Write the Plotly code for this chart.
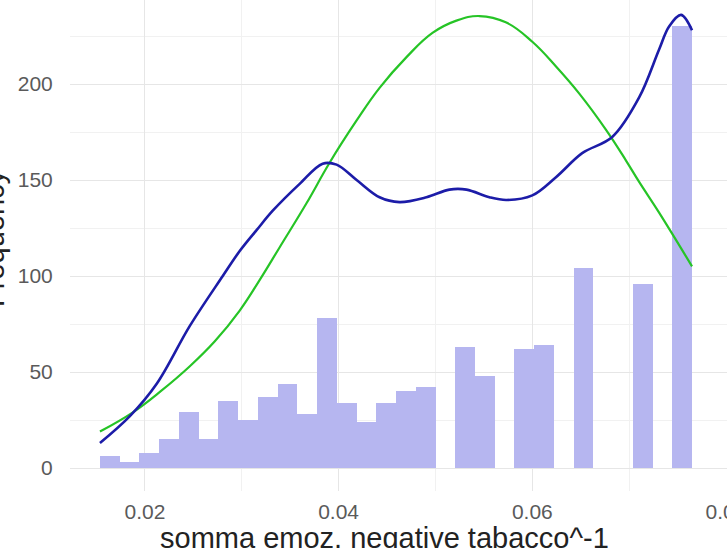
import plotly.graph_objects as go

# Histogram of the inverse-transformed score (30 equal-width bins)
BIN_START = 0.01536
BIN_WIDTH = 0.002038
counts = [6, 3, 8, 15, 29, 15, 35, 25, 37, 44,
          28, 78, 34, 24, 34, 40, 42, 0, 63, 48,
          0, 62, 64, 0, 104, 0, 0, 96, 0, 230]

# Kernel density estimate, scaled to counts
kde_x = [0.01536, 0.01845, 0.02124, 0.02464, 0.02804, 0.02979, 0.03155,
         0.03320, 0.03598, 0.03835, 0.03979, 0.04186, 0.04423,
         0.04629, 0.04907, 0.05144, 0.05320, 0.05557, 0.05732, 0.06000,
         0.06247, 0.06515, 0.06825, 0.07103, 0.07309, 0.07412, 0.07536,
         0.07649]
kde_y = [13, 27, 44, 74, 100, 113, 124,
         134, 148, 158.5, 158, 150, 141,
         138.5, 141, 145, 145, 141, 139.6, 142,
         151.6, 164, 172.4, 193, 218, 230, 236,
         228]

# Normal curve with the sample mean and sd, scaled to counts
norm_x = [0.01536, 0.01876, 0.02164, 0.02464, 0.02722, 0.02979, 0.03186,
          0.03392, 0.03670, 0.03907, 0.04186, 0.04423, 0.04701, 0.04969,
          0.05216, 0.05454, 0.05732, 0.06000, 0.06247, 0.06485, 0.06763,
          0.06969, 0.07103, 0.07309, 0.07649]
norm_y = [19, 29, 40, 53, 66, 82, 98,
          115, 138, 159, 181, 198, 214, 226.6,
          233, 235.4, 232, 222, 209, 195, 176,
          160, 149, 133, 105]

x_ticks = [0.02, 0.04, 0.06, 0.08]
x_tick_text = ["0.02", "0.04", "0.06", "0.08"]
y_ticks = [0, 50, 100, 150, 200]
y_tick_text = ["0", "50", "100", "150", "200"]

bin_centers = [BIN_START + (i + 0.5) * BIN_WIDTH for i in range(len(counts))]

FONT = "Liberation Sans, Arial, sans-serif"
PLOT_W = 727 - 70
PLOT_H = 548 - 57

fig = go.Figure()
fig.add_trace(go.Bar(
    x=bin_centers, y=counts, width=BIN_WIDTH,
    marker=dict(color="#b6b6f0", line=dict(width=0)),
    showlegend=False,
))
fig.add_trace(go.Scatter(
    x=norm_x, y=norm_y, mode="lines",
    line=dict(color="#26c426", width=2.2, shape="spline", smoothing=1.2),
    showlegend=False,
))
fig.add_trace(go.Scatter(
    x=kde_x, y=kde_y, mode="lines",
    line=dict(color="#1c1ca8", width=2.6, shape="spline", smoothing=1),
    showlegend=False,
))

fig.update_layout(
    width=727, height=548,
    margin=dict(l=70, r=0, t=0, b=57, pad=0, autoexpand=False),
    paper_bgcolor="white", plot_bgcolor="white",
    bargap=0,
    font=dict(family=FONT),
    xaxis=dict(
        range=[0.012268, 0.0801],
        automargin=False,
        tickvals=x_ticks, ticktext=x_tick_text,
        ticks="outside", ticklen=2, tickcolor="rgba(0,0,0,0)",
        ticklabeloverflow="allow",
        tickfont=dict(size=21, color="#5a5a5a", family=FONT),
        showgrid=True, gridcolor="#e6e6e6", gridwidth=1.2,
        minor=dict(tickvals=[0.03, 0.05, 0.07], showgrid=True,
                   gridcolor="#f1f1f1", gridwidth=0.9),
        zeroline=False, showline=False,
    ),
    yaxis=dict(
        range=[-11.98, 243.75],
        automargin=False,
        tickvals=y_ticks, ticktext=y_tick_text,
        ticks="outside", ticklen=12, tickcolor="rgba(0,0,0,0)",
        tickfont=dict(size=21, color="#5a5a5a", family=FONT),
        showgrid=True, gridcolor="#e6e6e6", gridwidth=1.2,
        minor=dict(tickvals=[25, 75, 125, 175, 225], showgrid=True,
                   gridcolor="#f1f1f1", gridwidth=0.9),
        zeroline=False, showline=False,
    ),
    annotations=[
        dict(text="somma emoz. negative tabacco^-1",
             xref="paper", yref="paper",
             x=(384 - 70) / PLOT_W, y=-(538 - PLOT_H) / PLOT_H,
             xanchor="center", yanchor="middle", showarrow=False,
             font=dict(size=29, color="#222222", family=FONT)),
        dict(text="Frequency", textangle=-90,
             xref="paper", yref="paper",
             x=(-6 - 70) / PLOT_W, y=(PLOT_H - 238) / PLOT_H,
             xanchor="center", yanchor="middle", showarrow=False,
             font=dict(size=29, color="#222222", family=FONT)),
    ],
)

fig.write_html("out.html")
